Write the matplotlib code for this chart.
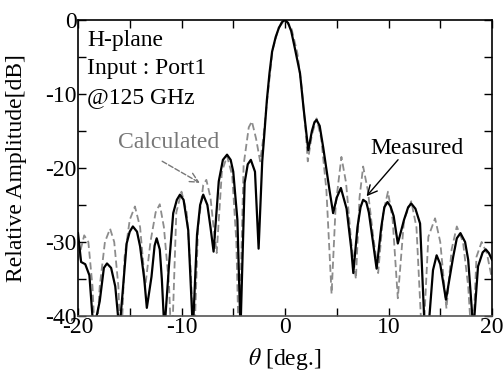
import numpy as np
import matplotlib
matplotlib.use('Agg')
import matplotlib.pyplot as plt

# measured pattern (deg, dB); values below -40 are clipped nulls
meas_theta = [-20.0, -19.7, -19.3, -18.9, -18.5, -17.9, -17.5, -17.2, -16.8, -16.4,
              -16.0, -15.7, -15.3, -15.0, -14.7, -14.3, -14.0, -13.6, -13.35, -12.9,
              -12.6, -12.4, -12.1, -11.9, -11.65, -11.2, -10.8, -10.45, -10.15, -9.8,
              -9.35, -8.9, -8.5, -8.2, -7.9, -7.5, -7.2, -6.9, -6.4, -6.0,
              -5.6, -5.25, -5.0, -4.6, -4.3, -3.9, -3.6, -3.3, -2.9, -2.55,
              -2.2, -2.0, -1.75, -1.5, -1.25, -0.9, -0.6, -0.3, 0.0, 0.3,
              0.6, 0.95, 1.45, 1.8, 2.25, 2.6, 2.85, 3.05, 3.35, 3.7,
              4.3, 4.65, 5.0, 5.4, 5.95, 6.4, 6.6, 7.0, 7.3, 7.55,
              7.85, 8.1, 8.5, 8.85, 9.3, 9.6, 9.9, 10.2, 10.5, 10.9,
              11.5, 11.9, 12.2, 12.6, 13.05, 13.5, 13.9, 14.3, 14.65, 15.0,
              15.55, 16.25, 16.6, 16.95, 17.4, 17.7, 18.2, 18.65, 19.1, 19.4,
              19.7, 20.0]
meas_db = [-28.8, -32.7, -33.0, -34.5, -42, -38, -33.5, -32.9, -33.5, -36,
           -42, -37, -30.2, -28.6, -27.9, -28.6, -30.6, -35, -38.9, -34.7,
           -30.5, -29.5, -31, -35, -42, -33, -26.1, -24.3, -23.6, -24.3,
           -28.4, -42, -29, -25, -23.6, -25, -28, -31.3, -21.8, -18.9,
           -18.2, -18.9, -20.5, -27, -42, -22, -19.5, -18.9, -20.5, -30.9,
           -19.1, -15.5, -10.8, -7.2, -4.3, -2.3, -1.1, -0.3, 0.0, -0.4,
           -1.5, -3.8, -7.2, -12, -17.6, -15, -13.8, -13.5, -14.3, -17.3,
           -23, -26.1, -24, -22.7, -25.5, -30.9, -34.2, -28, -25.3, -24.3,
           -24.6, -26, -30, -33.6, -28, -25.3, -24.6, -25.2, -26.5, -30.2,
           -27, -25.3, -24.8, -25.5, -27.5, -42, -41, -33.8, -31.8, -33,
           -37.8, -32, -29.5, -28.8, -30, -32.4, -42, -33.3, -31.4, -31,
           -31.5, -32.4]

# calculated pattern
calc_theta = [-20.0, -19.4, -19.0, -18.6, -18.3, -17.9, -17.4, -16.9, -16.5, -16.1,
              -15.85, -15.5, -15.0, -14.5, -14.0, -13.5, -13.0, -12.5, -12.1, -11.7,
              -11.2, -10.95, -10.5, -10.0, -9.5, -9.1, -8.8, -8.4, -7.9, -7.6,
              -7.2, -6.9, -6.6, -6.1, -5.6, -5.1, -4.7, -4.45, -4.0, -3.5,
              -3.2, -2.8, -2.4, -2.1, -1.7, -1.2, -0.6, 0.0, 0.6, 1.2,
              1.6, 2.0, 2.2, 2.6, 3.05, 3.5, 4.0, 4.5, 4.9, 5.45,
              5.9, 6.4, 6.85, 7.2, 7.55, 8.0, 8.5, 9.0, 9.5, 9.95,
              10.4, 10.9, 11.5, 12.2, 12.7, 13.3, 13.85, 14.5, 15.0, 15.6,
              16.1, 16.6, 17.2, 17.7, 18.1, 18.5, 19.0, 19.5, 20.0]
calc_db = [-32.5, -29.1, -30, -36, -45, -36, -30, -28.2, -30, -36,
           -45, -32, -27, -25.2, -28, -36, -30, -26, -24.9, -28,
           -36, -45, -26, -23.2, -26, -34, -45, -28, -22.3, -21.6,
           -24, -28, -31.5, -20.5, -18.4, -21, -30, -45, -19.6, -14.5,
           -13.7, -16, -19.1, -16, -10.5, -4.0, -1.0, 0, -1.0, -4.5,
           -9, -15, -19.1, -15.5, -13.3, -16, -23, -37, -25, -18.5,
           -22, -30, -35, -24, -19.8, -23, -29, -34.2, -26, -23.2,
           -27, -37.6, -27, -24.5, -28, -45, -29.3, -26.8, -30, -39,
           -31, -27.9, -30, -36, -45, -32, -30, -31.5, -35]

info_lines = ['H-plane', 'Input : Port1', '@125 GHz']

plt.rcParams['font.family'] = ['Liberation Serif', 'DejaVu Serif']
plt.rcParams['mathtext.fontset'] = 'stix'
plt.rcParams['font.size'] = 17
plt.rcParams['axes.unicode_minus'] = False

fig = plt.figure(figsize=(5.04, 3.74), dpi=100)
ax = fig.add_axes([78/504, 1 - 316/374, 414/504, 296/374])

ax.plot(calc_theta, calc_db, color='#8c8c8c', lw=1.3, dashes=(4, 2))
ax.plot(meas_theta, meas_db, color='black', lw=1.6)

ax.set_xlim(-20, 20)
ax.set_ylim(-40, 0)
ax.set_xticks([-20, -10, 0, 10, 20])
ax.set_xticks([-15, -5, 5, 15], minor=True)
ax.set_yticks([-40, -30, -20, -10, 0])
ax.set_yticks([-35, -25, -15, -5], minor=True)
ax.tick_params(which='both', direction='in', top=True, right=True, length=6, width=1, pad=1)
for s in ax.spines.values():
    s.set_linewidth(1.2)
ax.spines['bottom'].set_color('#555555')

ax.set_xlabel(r'$\theta$ [deg.]')
ax.xaxis.set_label_coords(0.5, -0.1)
ax.set_ylabel('Relative Amplitude[dB]')
ax.yaxis.set_label_coords(-0.122, 0.5)

# info block, one line each
for i, line in enumerate(info_lines):
    ax.text(0.022, 0.932 - i * 0.097, line, transform=ax.transAxes,
            va='center', ha='left')

ax.text(-11.25, -16.6, 'Calculated', color='#777777', ha='center', va='center')
ax.annotate('', xy=(-8.0, -22.2), xytext=(-12.1, -18.9),
            arrowprops=dict(arrowstyle='->', color='#777777', lw=1, ls='--'))
ax.text(12.75, -17.3, 'Measured', color='black', ha='center', va='center')
ax.annotate('', xy=(7.7, -24.1), xytext=(11.1, -18.6),
            arrowprops=dict(arrowstyle='->', color='black', lw=1))

fig.savefig('out.png', dpi=100)
